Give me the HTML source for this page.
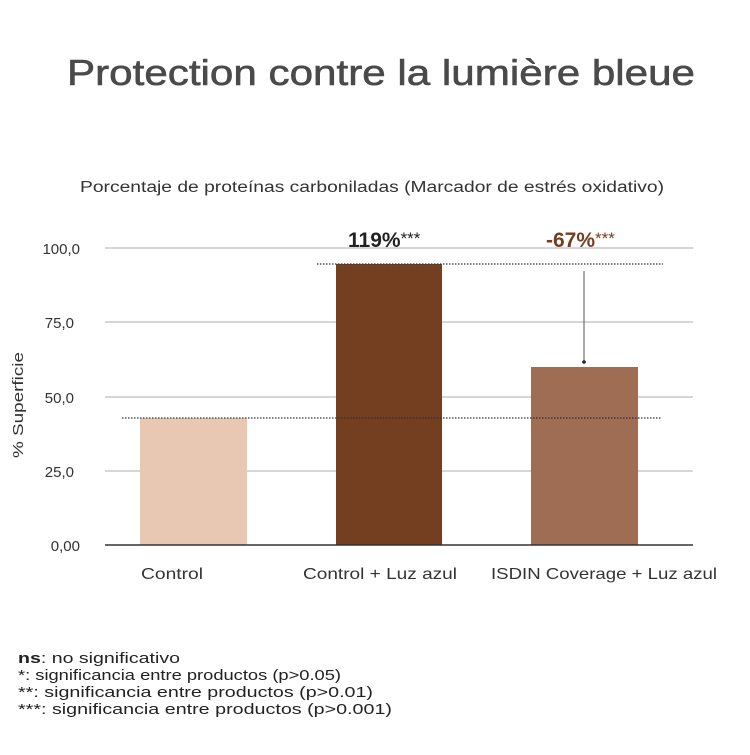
<!DOCTYPE html>
<html><head><meta charset="utf-8"><style>
body{margin:0;background:#fff;}
</style></head><body>
<svg width="750" height="750" xmlns="http://www.w3.org/2000/svg" font-family="Liberation Sans, sans-serif">
<rect width="750" height="750" fill="#fff"/>
<text x="67" y="85" font-size="36" fill="#4a4a4a" textLength="628" lengthAdjust="spacingAndGlyphs" stroke="#4a4a4a" stroke-width="0.6">Protection contre la lumière bleue</text>
<text x="80" y="192" font-size="15.5" fill="#333" textLength="584" lengthAdjust="spacingAndGlyphs">Porcentaje de proteínas carboniladas (Marcador de estrés oxidativo)</text>
<g stroke="#c8c8c8" stroke-width="1.5">
<line x1="105" y1="248" x2="693" y2="248"/>
<line x1="105" y1="322" x2="693" y2="322"/>
<line x1="105" y1="397" x2="693" y2="397"/>
<line x1="105" y1="471" x2="693" y2="471"/>
</g>
<g font-size="15" fill="#333" text-anchor="end">
<text x="80" y="254">100,0</text>
<text x="74" y="328">75,0</text>
<text x="74" y="403">50,0</text>
<text x="74" y="477">25,0</text>
<text x="80" y="551">0,00</text>
</g>
<text transform="translate(23,405) rotate(-90)" text-anchor="middle" font-size="15" fill="#333" textLength="106" lengthAdjust="spacingAndGlyphs">% Superficie</text>
<rect x="140" y="418" width="107" height="127" fill="#e8c7b3"/>
<rect x="336" y="264" width="106" height="281" fill="#733f20"/>
<rect x="531" y="367" width="107" height="178" fill="#9e6d54"/>
<line x1="105" y1="545" x2="693" y2="545" stroke="#333" stroke-width="1.5"/>
<g stroke="#333" stroke-width="1.2" stroke-dasharray="1.5,1.5">
<line x1="122" y1="418" x2="662" y2="418"/>
<line x1="317" y1="264" x2="663" y2="264"/>
</g>
<line x1="584" y1="271" x2="584" y2="362" stroke="#555" stroke-width="1"/>
<circle cx="584" cy="362" r="1.8" fill="#222"/>
<text x="348" y="247" font-size="21" font-weight="bold" fill="#222">119%<tspan font-size="17" font-weight="normal" dy="-3">***</tspan></text>
<text x="546" y="247" font-size="21" font-weight="bold" fill="#733f20">-67%<tspan font-size="17" font-weight="normal" dy="-3">***</tspan></text>
<g font-size="16" fill="#333">
<text x="141" y="579" textLength="62" lengthAdjust="spacingAndGlyphs">Control</text>
<text x="303" y="579" textLength="154" lengthAdjust="spacingAndGlyphs">Control + Luz azul</text>
<text x="491" y="579" textLength="226" lengthAdjust="spacingAndGlyphs">ISDIN Coverage + Luz azul</text>
</g>
<g font-size="15" fill="#222">
<text x="18" y="663" textLength="162" lengthAdjust="spacingAndGlyphs"><tspan font-weight="bold">ns</tspan>: no significativo</text>
<text x="18" y="680" textLength="323" lengthAdjust="spacingAndGlyphs">*: significancia entre productos (p&gt;0.05)</text>
<text x="18" y="697" textLength="355" lengthAdjust="spacingAndGlyphs">**: significancia entre productos (p&gt;0.01)</text>
<text x="18" y="714" textLength="374" lengthAdjust="spacingAndGlyphs">***: significancia entre productos (p&gt;0.001)</text>
</g>
</svg>
</body></html>
